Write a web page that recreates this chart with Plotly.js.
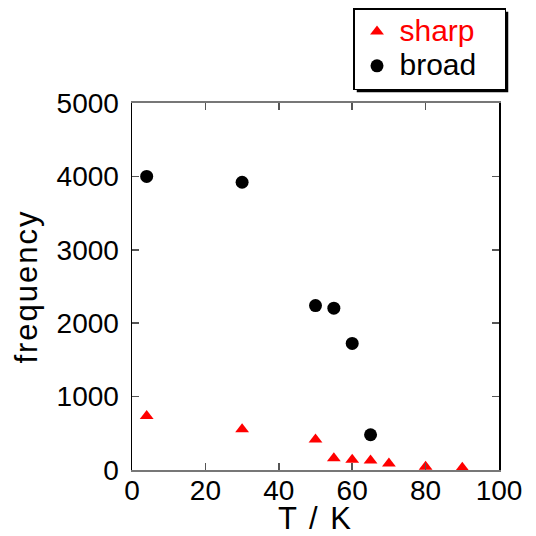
<!DOCTYPE html>
<html>
<head>
<meta charset="utf-8">
<script src="https://cdn.plot.ly/plotly-3.0.1.min.js"></script>
<style>
html,body{margin:0;padding:0;background:#fff;}
#chart{width:536px;height:536px;}
.ytitle, .xtitle{letter-spacing:2px;}
</style>
</head>
<body>
<div id="chart"></div>
<script>
const sharpT = [4, 30, 50, 55, 60, 65, 70, 80, 90];
const sharpFreq = [735, 555, 415, 160, 140, 130, 90, 45, 30];
const broadT = [4, 30, 50, 55, 60, 65];
const broadFreq = [4000, 3920, 2240, 2205, 1725, 480];
const xTicks = [0, 20, 40, 60, 80, 100];
const yTicks = [0, 1000, 2000, 3000, 4000, 5000];

const FONT = 'Liberation Sans, Arial, sans-serif';
const PAD = '\u00a0\u00a0\u2009';

const traces = [
  {
    x: sharpT, y: sharpFreq, type: 'scatter', mode: 'markers',
    name: '<span style="color:#ff0000;font-size:30px">sharp' + PAD + '</span>',
    marker: {symbol: 'triangle-up', size: 12, color: '#ff0000'},
    cliponaxis: false
  },
  {
    x: broadT, y: broadFreq, type: 'scatter', mode: 'markers',
    name: '<span style="font-size:30px">broad' + PAD + '</span>',
    marker: {symbol: 'circle', size: 13, color: '#000000'},
    cliponaxis: false
  }
];

const W = 536, H = 536;
const M = {l: 132, r: 37, t: 103, b: 66};

const layout = {
  width: W, height: H,
  margin: {l: M.l, r: M.r, t: M.t, b: M.b, pad: 0, autoexpand: false},
  paper_bgcolor: '#ffffff', plot_bgcolor: '#ffffff',
  font: {family: FONT, color: '#000'},
  showlegend: true,
  legend: {
    x: (353 - M.l) / (W - M.l - M.r),
    y: (H - M.b - 8) / (H - M.t - M.b),
    xanchor: 'left', yanchor: 'top',
    bgcolor: '#ffffff', bordercolor: '#000000', borderwidth: 1.5,
    font: {family: FONT, size: 24, color: '#000'},
    itemwidth: 35, tracegroupgap: 0
  },
  xaxis: {
    range: [0, 100], tickvals: xTicks, ticktext: xTicks.map(String),
    ticks: 'inside', ticklen: 7, tickwidth: 1.5, tickcolor: '#555',
    showline: true, linecolor: '#777', linewidth: 2, mirror: 'ticks',
    showgrid: false, zeroline: false,
    tickfont: {family: FONT, size: 28, color: '#000'},
    ticklabelstandoff: -6,
    title: {text: 'T / K', font: {family: FONT, size: 31, color: '#000'}, standoff: 7}
  },
  yaxis: {
    range: [0, 5000], tickvals: yTicks, ticktext: yTicks.map(String),
    ticks: 'inside', ticklen: 7, tickwidth: 1.5, tickcolor: '#555',
    showline: true, linecolor: '#000', linewidth: 1.5, mirror: 'ticks',
    showgrid: false, zeroline: false,
    tickfont: {family: FONT, size: 28, color: '#000'},
    ticklabelstandoff: 6,
    title: {text: '\u00a0frequency', font: {family: FONT, size: 31, color: '#000'}, standoff: 10}
  }
};

Plotly.newPlot('chart', traces, layout, {displayModeBar: false, staticPlot: true}).then(function (gd) {
  const bg = gd.querySelector('.legend .bg');
  if (!bg) return;
  const r = bg.getBoundingClientRect();
  const c = gd.getBoundingClientRect();
  const pw = W - M.l - M.r, ph = H - M.t - M.b;
  const off = 3;
  const x0 = (r.left - c.left + off - M.l) / pw;
  const x1 = (r.right - c.left + off - M.l) / pw;
  const y0 = (H - M.b - (r.bottom - c.top + off)) / ph;
  const y1 = (H - M.b - (r.top - c.top + off)) / ph;
  return Plotly.relayout(gd, {shapes: [{
    type: 'rect', xref: 'paper', yref: 'paper', x0: x0, x1: x1, y0: y0, y1: y1,
    fillcolor: '#000', line: {width: 0}, layer: 'above'
  }]});
});
</script>
</body>
</html>
